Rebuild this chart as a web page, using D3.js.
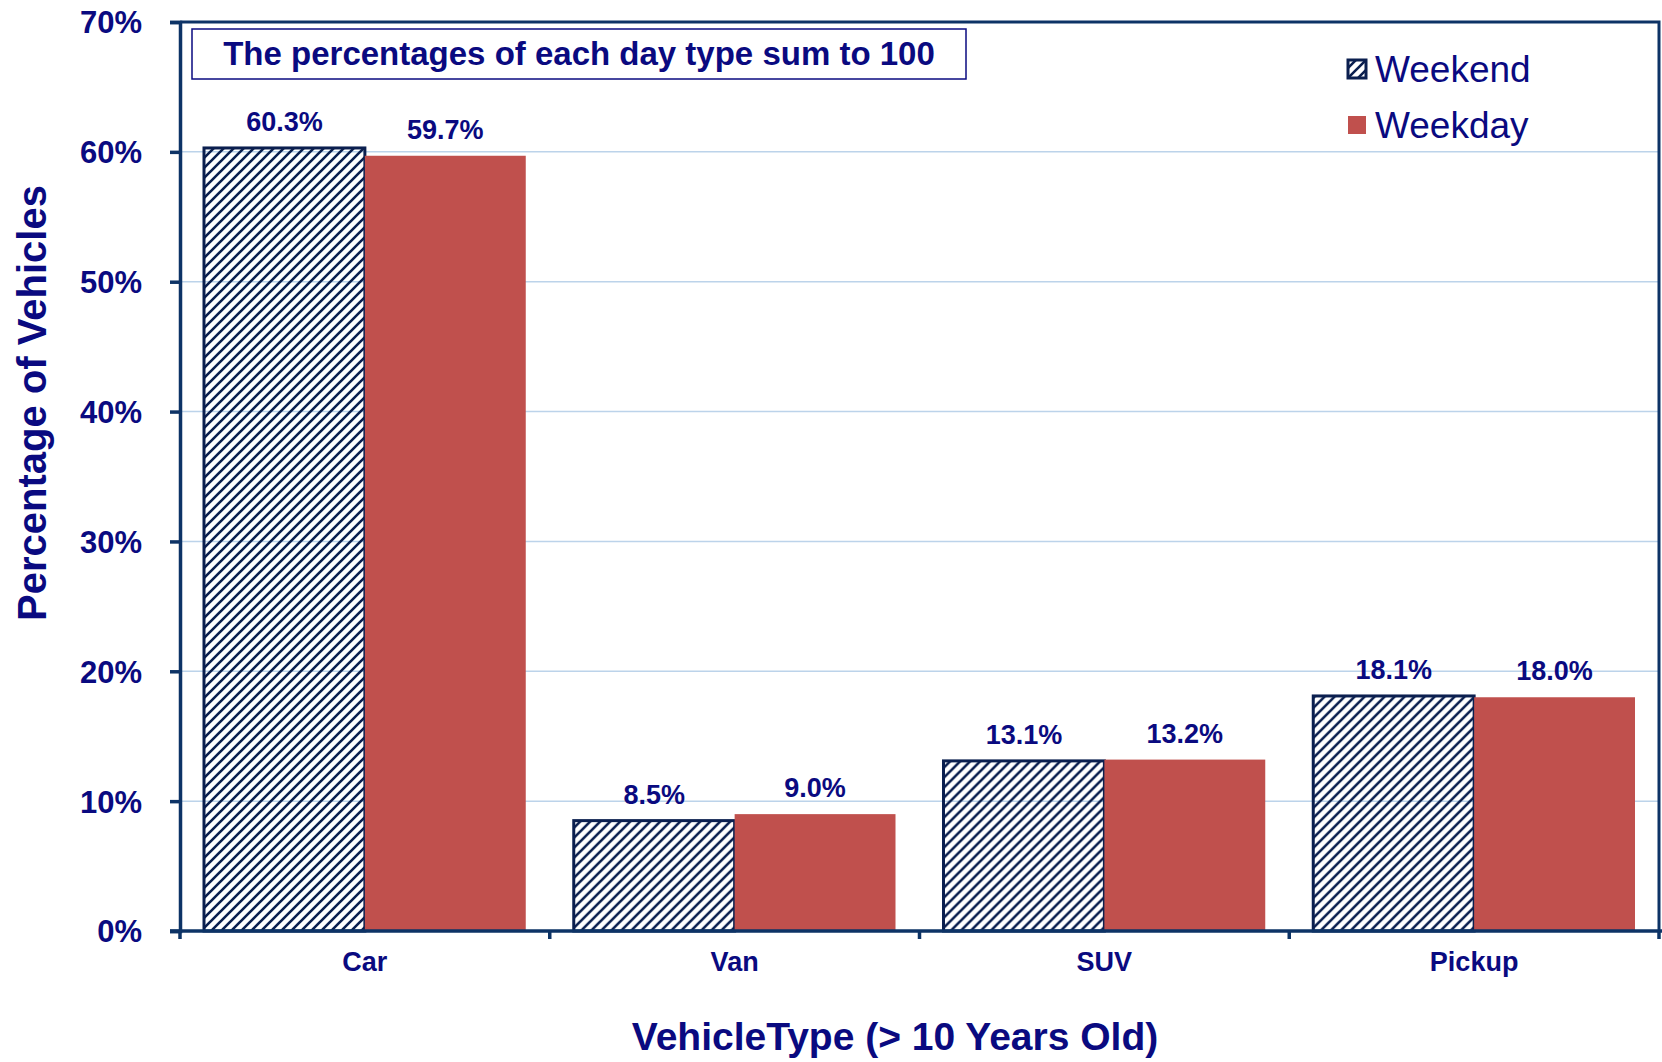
<!DOCTYPE html>
<html>
<head>
<meta charset="utf-8">
<script src="https://cdn.jsdelivr.net/npm/d3@7"></script>
<style>
  body { margin: 0; background: #fff; }
  text { font-family: "Liberation Sans", Arial, sans-serif; fill: #0a0a80; }
</style>
</head>
<body>
<div id="chart"></div>
<script>
var categories = ["Car", "Van", "SUV", "Pickup"];
var seriesNames = ["Weekend", "Weekday"];
var weekend = [60.3, 8.5, 13.1, 18.1];
var weekday = [59.7, 9.0, 13.2, 18.0];
var yTicks = [0, 10, 20, 30, 40, 50, 60, 70];

window.onload = () => {
  var W = 1662, H = 1062;
  var margin = { top: 22, right: 3, bottom: 131, left: 180 },
    width = W - margin.left - margin.right,
    height = H - margin.top - margin.bottom;

  var navy = "#0d3366", red = "#c0504d";

  var svg = d3.select("#chart").append("svg")
    .attr("width", W)
    .attr("height", H);

  // hatch pattern for weekend bars
  var defs = svg.append("defs");
  defs.append("pattern")
    .attr("id", "hatch")
    .attr("patternUnits", "userSpaceOnUse")
    .attr("width", 10)
    .attr("height", 10)
    .append("path")
    .attr("d", "M-2,12 L12,-2 M-2,2 L2,-2 M8,12 L12,8")
    .attr("stroke", "#0b1f4f")
    .attr("stroke-width", 2.6);

  var g = svg.append("g")
    .attr("transform", "translate(" + margin.left + "," + margin.top + ")");

  var x = d3.scaleBand()
    .domain(categories)
    .range([0, width]);

  var x1 = d3.scaleBand()
    .domain(seriesNames)
    .range([24, x.bandwidth() - 24]);

  var y = d3.scaleLinear()
    .domain([0, 70])
    .range([height, 0]);

  // gridlines
  g.append("g")
    .selectAll("line")
    .data(yTicks.slice(1, -1))
    .join("line")
    .attr("x1", 0)
    .attr("x2", width)
    .attr("y1", d => y(d))
    .attr("y2", d => y(d))
    .attr("stroke", "#bcd3ea")
    .attr("stroke-width", 1.5);

  // annotation box
  g.append("rect")
    .attr("x", 12)
    .attr("y", 7)
    .attr("width", 774)
    .attr("height", 50)
    .attr("fill", "#fff")
    .attr("stroke", "#0a0a80")
    .attr("stroke-width", 1.5);
  g.append("text")
    .attr("x", 12 + 387)
    .attr("y", 43)
    .attr("text-anchor", "middle")
    .style("font-size", "33px")
    .style("font-weight", "bold")
    .text("The percentages of each day type sum to 100");

  var data = categories.map((c, i) => ({ cat: c, vals: [
    { key: "Weekend", v: weekend[i] },
    { key: "Weekday", v: weekday[i] }
  ] }));

  var groups = g.append("g")
    .selectAll("g")
    .data(data)
    .join("g")
    .attr("transform", d => "translate(" + x(d.cat) + ",0)");

  groups.selectAll("rect")
    .data(d => d.vals)
    .join("rect")
    .attr("x", d => x1(d.key))
    .attr("y", d => y(d.v))
    .attr("width", x1.bandwidth())
    .attr("height", d => height - y(d.v))
    .attr("fill", d => d.key === "Weekend" ? "url(#hatch)" : red)
    .attr("stroke", d => d.key === "Weekend" ? "#0b1f4f" : "none")
    .attr("stroke-width", 3);

  groups.selectAll("text.val")
    .data(d => d.vals)
    .join("text")
    .attr("class", "val")
    .attr("x", d => x1(d.key) + x1.bandwidth() / 2)
    .attr("y", d => y(d.v) - 17)
    .attr("text-anchor", "middle")
    .style("font-size", "27px")
    .style("font-weight", "bold")
    .text(d => d.v.toFixed(1) + "%");

  // frame (top and right)
  g.append("path")
    .attr("d", "M0,0 H" + width + " V" + height)
    .attr("fill", "none")
    .attr("stroke", navy)
    .attr("stroke-width", 3);

  // y axis
  var yAxis = g.append("g")
    .call(d3.axisLeft(y)
      .tickValues(yTicks)
      .tickSize(10)
      .tickPadding(28)
      .tickFormat(d => d + "%"));
  yAxis.select(".domain").attr("stroke", navy).attr("stroke-width", 3.5);
  yAxis.selectAll(".tick line").attr("stroke", navy).attr("stroke-width", 3.5);
  yAxis.selectAll("text")
    .attr("fill", "#0a0a80")
    .attr("dy", "0.35em")
    .style("font-size", "31px")
    .style("font-weight", "bold")
    .style("font-family", "Liberation Sans, Arial, sans-serif");

  // x axis
  var xAxis = g.append("g")
    .attr("transform", "translate(0," + height + ")")
    .call(d3.axisBottom(x).tickSize(0).tickPadding(21));
  xAxis.select(".domain").remove();
  xAxis.append("line")
    .attr("x1", -10)
    .attr("x2", width + 3)
    .attr("stroke", navy)
    .attr("stroke-width", 3.5);
  // tick marks at category boundaries
  var bounds = [0].concat(categories.slice(1).map(c => x(c)), [width]);
  xAxis.selectAll(".bnd")
    .data(bounds)
    .join("line")
    .attr("class", "bnd")
    .attr("x1", d => d)
    .attr("x2", d => d)
    .attr("y1", 0)
    .attr("y2", 8)
    .attr("stroke", navy)
    .attr("stroke-width", 3.5);
  xAxis.selectAll(".tick text")
    .attr("fill", "#0a0a80")
    .style("font-size", "27px")
    .style("font-weight", "bold")
    .style("font-family", "Liberation Sans, Arial, sans-serif");

  // legend
  var legend = g.append("g")
    .attr("transform", "translate(" + (1347 - margin.left) + "," + (37 - margin.top) + ")");
  legend.append("rect")
    .attr("x", -10).attr("y", 0).attr("width", 270).attr("height", 112)
    .attr("fill", "#fff");
  var li = legend.selectAll("g")
    .data(seriesNames)
    .join("g")
    .attr("transform", (d, i) => "translate(0," + (22 + i * 56) + ")");
  li.append("rect")
    .attr("x", 1).attr("y", 1)
    .attr("width", 18).attr("height", 18)
    .attr("fill", d => d === "Weekend" ? "url(#hatch)" : red)
    .attr("stroke", d => d === "Weekend" ? "#0b1f4f" : "none")
    .attr("stroke-width", 3);
  li.append("text")
    .attr("x", 28)
    .attr("y", 23)
    .style("font-size", "37px")
    .text(d => d);

  // axis titles
  svg.append("text")
    .attr("transform", "translate(46,403) rotate(-90)")
    .attr("text-anchor", "middle")
    .style("font-size", "40px")
    .style("font-weight", "bold")
    .text("Percentage of Vehicles");

  svg.append("text")
    .attr("x", 895)
    .attr("y", 1050)
    .attr("text-anchor", "middle")
    .style("font-size", "39px")
    .style("font-weight", "bold")
    .text("VehicleType (> 10 Years Old)");
};
</script>
</body>
</html>
